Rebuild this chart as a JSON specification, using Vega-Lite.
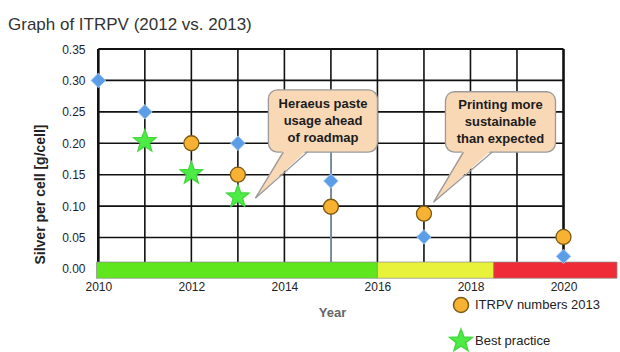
{
  "$schema": "https://vega.github.io/schema/vega-lite/v6.json",
  "width": 521,
  "height": 230,
  "autosize": {"type": "none"},
  "padding": {"left": 96, "top": 49, "right": 3, "bottom": 73},
  "background": "white",
  "title": {"text": "Graph of ITRPV (2012 vs. 2013)", "anchor": "start", "frame": "group", "dx": -88, "offset": 9, "fontSize": 17, "fontWeight": "normal", "color": "#333333", "font": "Liberation Sans"},
  "config": {
    "view": {"stroke": null},
    "font": "Liberation Sans",
    "axisY": {"labelOverlap": false, "tickCount": 8, "ticks": false, "domain": false, "grid": false},
    "axisX": {"labelOverlap": false, "ticks": false, "domain": false, "grid": false},
    "legend": {"labelFontSize": 13, "labelColor": "#222222", "labelFont": "Liberation Sans", "padding": 0}
  },
  "datasets": {
    "levels": [{"level": 0.05}, {"level": 0.1}, {"level": 0.15}, {"level": 0.2}, {"level": 0.25}, {"level": 0.3}, {"level": 0.35}],
    "years": [{"year": 2010}, {"year": 2011}, {"year": 2012}, {"year": 2013}, {"year": 2014}, {"year": 2015}, {"year": 2016}, {"year": 2017}, {"year": 2018}, {"year": 2019}, {"year": 2020}],
    "phases": [{"phase": "p1", "start": 2009.96, "end": 2016.0}, {"phase": "p2", "start": 2016.0, "end": 2018.5}, {"phase": "p3", "start": 2018.5, "end": 2021.15}],
    "boxes": [
      {"id": "c1", "x1": 2013.656, "x2": 2016.0, "y1": 0.186, "y2": 0.285, "tx": 2014.83, "ty": 0.2625, "label": "Heraeus paste\nusage ahead\nof roadmap"},
      {"id": "c2", "x1": 2017.462, "x2": 2019.828, "y1": 0.186, "y2": 0.282, "tx": 2018.645, "ty": 0.261, "label": "Printing more\nsustainable\nthan expected"}
    ],
    "tails": [
      {"id": "c1", "x": 2013.376, "lo": 0.1126, "hi": 0.1126},
      {"id": "c1", "x": 2013.978, "lo": 0.1542, "hi": 0.19},
      {"id": "c1", "x": 2014.495, "lo": 0.19, "hi": 0.19},
      {"id": "c2", "x": 2017.204, "lo": 0.106, "hi": 0.106},
      {"id": "c2", "x": 2017.85, "lo": 0.1489, "hi": 0.19},
      {"id": "c2", "x": 2018.47, "lo": 0.19, "hi": 0.19}
    ],
    "tailEdges": [
      {"id": "c1", "ord": 1, "x": 2013.978, "y": 0.186},
      {"id": "c1", "ord": 2, "x": 2013.376, "y": 0.1126},
      {"id": "c1", "ord": 3, "x": 2014.495, "y": 0.186},
      {"id": "c2", "ord": 1, "x": 2017.85, "y": 0.186},
      {"id": "c2", "ord": 2, "x": 2017.204, "y": 0.106},
      {"id": "c2", "ord": 3, "x": 2018.47, "y": 0.186}
    ],
    "diamonds": [
      {"year": 2010, "value": 0.30},
      {"year": 2011, "value": 0.25},
      {"year": 2013, "value": 0.20},
      {"year": 2015, "value": 0.14},
      {"year": 2017, "value": 0.051},
      {"year": 2020, "value": 0.02}
    ],
    "points": [
      {"series": "ITRPV numbers 2013", "year": 2012, "value": 0.20},
      {"series": "ITRPV numbers 2013", "year": 2013, "value": 0.15},
      {"series": "ITRPV numbers 2013", "year": 2015, "value": 0.099},
      {"series": "ITRPV numbers 2013", "year": 2017, "value": 0.088},
      {"series": "ITRPV numbers 2013", "year": 2020, "value": 0.051},
      {"series": "Best practice", "year": 2011, "value": 0.203},
      {"series": "Best practice", "year": 2012, "value": 0.152},
      {"series": "Best practice", "year": 2013, "value": 0.115}
    ]
  },
  "layer": [
    {
      "data": {"name": "levels"},
      "mark": {"type": "rule", "color": "#111111"},
      "encoding": {
        "x": {"datum": 2010, "type": "quantitative", "scale": {"domain": [2009.95, 2021.15], "nice": false, "zero": false},
          "axis": {"values": [2010, 2012, 2014, 2016, 2018, 2020], "format": "d", "ticks": false, "domain": false, "grid": false, "labelOverlap": false, "labelPadding": 2, "labelFontSize": 12, "labelColor": "#222222", "title": "Year", "titleX": 236, "titleY": 33, "titleFontSize": 13, "titleFontWeight": "bold", "titleColor": "#666666", "titleAlign": "center", "titleBaseline": "middle"}},
        "x2": {"datum": 2020},
        "y": {"field": "level", "type": "quantitative", "scale": {"domain": [-0.016, 0.35], "nice": false, "zero": false},
          "axis": {"values": [0, 0.05, 0.1, 0.15, 0.2, 0.25, 0.3, 0.35], "tickCount": 8, "format": ".2f", "ticks": false, "domain": false, "grid": false, "labelOverlap": false, "labelPadding": 11, "labelFontSize": 12, "labelColor": "#1e1e30", "title": "Silver per cell [g/cell]", "titleX": -56, "titleY": 145, "titleAngle": -90, "titleAlign": "center", "titleBaseline": "middle", "titleFontSize": 14, "titleFontWeight": "bold", "titleColor": "#222222"}},
        "strokeWidth": {"condition": {"test": "datum.level == 0.35", "value": 2.2}, "value": 1.6}
      }
    },
    {
      "data": {"name": "years"},
      "mark": {"type": "rule", "color": "#111111"},
      "encoding": {
        "x": {"field": "year", "type": "quantitative"},
        "y": {"datum": 0.0105, "type": "quantitative"},
        "y2": {"datum": 0.35},
        "strokeWidth": {"condition": {"test": "datum.year == 2010 || datum.year == 2020", "value": 2.6}, "value": 1.6}
      }
    },
    {
      "data": {"values": [{"year": 2015}]},
      "mark": {"type": "rule", "color": "#8494a8", "strokeWidth": 1.8},
      "encoding": {
        "x": {"field": "year", "type": "quantitative"},
        "y": {"datum": 0.0105, "type": "quantitative"},
        "y2": {"datum": 0.19}
      }
    },
    {
      "data": {"name": "phases"},
      "mark": {"type": "rect", "stroke": "#8c8c8c", "strokeWidth": 0.7},
      "encoding": {
        "x": {"field": "start", "type": "quantitative"},
        "x2": {"field": "end"},
        "y": {"datum": -0.0148, "type": "quantitative"},
        "y2": {"datum": 0.011},
        "color": {"field": "phase", "type": "nominal", "scale": {"domain": ["p1", "p2", "p3"], "range": ["#5fe61c", "#e8f23a", "#ee2b37"]}, "legend": null}
      }
    },
    {
      "data": {"name": "boxes"},
      "mark": {"type": "rect", "fill": "#f9d8b6", "stroke": "#9a9a9a", "strokeWidth": 1.3, "cornerRadius": 9},
      "encoding": {
        "x": {"field": "x1", "type": "quantitative"},
        "x2": {"field": "x2"},
        "y": {"field": "y1", "type": "quantitative"},
        "y2": {"field": "y2"}
      }
    },
    {
      "data": {"name": "tails"},
      "mark": {"type": "area", "fill": "#f9d8b6", "opacity": 1},
      "encoding": {
        "x": {"field": "x", "type": "quantitative"},
        "y": {"field": "hi", "type": "quantitative"},
        "y2": {"field": "lo"},
        "detail": {"field": "id"}
      }
    },
    {
      "data": {"name": "tailEdges"},
      "mark": {"type": "line", "stroke": "#9a9a9a", "strokeWidth": 1.3},
      "encoding": {
        "x": {"field": "x", "type": "quantitative"},
        "y": {"field": "y", "type": "quantitative"},
        "order": {"field": "ord"},
        "detail": {"field": "id"}
      }
    },
    {
      "data": {"name": "boxes"},
      "mark": {"type": "text", "fontSize": 13, "fontWeight": "bold", "color": "#1c1c1c", "lineBreak": "\n", "lineHeight": 17, "align": "center", "baseline": "middle"},
      "encoding": {
        "x": {"field": "tx", "type": "quantitative"},
        "y": {"field": "ty", "type": "quantitative"},
        "text": {"field": "label"}
      }
    },
    {
      "data": {"name": "diamonds"},
      "mark": {"type": "point", "shape": "diamond", "filled": true, "size": 210, "fill": "#5b9de6", "stroke": "#9cc4ee", "strokeWidth": 1, "opacity": 1},
      "encoding": {
        "x": {"field": "year", "type": "quantitative"},
        "y": {"field": "value", "type": "quantitative"}
      }
    },
    {
      "data": {"name": "points"},
      "mark": {"type": "point", "filled": true, "opacity": 1, "strokeWidth": 1.3},
      "encoding": {
        "x": {"field": "year", "type": "quantitative"},
        "y": {"field": "value", "type": "quantitative"},
        "shape": {"field": "series", "type": "nominal", "scale": {"domain": ["ITRPV numbers 2013", "Best practice"], "range": ["circle", "M0,-1L0.247,-0.34L0.951,-0.309L0.399,0.13L0.588,0.809L0,0.42L-0.588,0.809L-0.399,0.13L-0.951,-0.309L-0.247,-0.34Z"]},
          "legend": {"title": null, "orient": "none", "legendX": 352, "legendY": 238, "clipHeight": 36, "rowPadding": 0, "labelOffset": 1}},
        "fill": {"field": "series", "type": "nominal", "scale": {"domain": ["ITRPV numbers 2013", "Best practice"], "range": ["#f8b233", "#4ceb45"]}, "legend": {"title": null}},
        "stroke": {"field": "series", "type": "nominal", "scale": {"domain": ["ITRPV numbers 2013", "Best practice"], "range": ["#7d5b12", "#45d83e"]}, "legend": {"title": null}},
        "size": {"field": "series", "type": "nominal", "scale": {"domain": ["ITRPV numbers 2013", "Best practice"], "range": [225, 560]}, "legend": {"title": null}}
      }
    }
  ]
}
